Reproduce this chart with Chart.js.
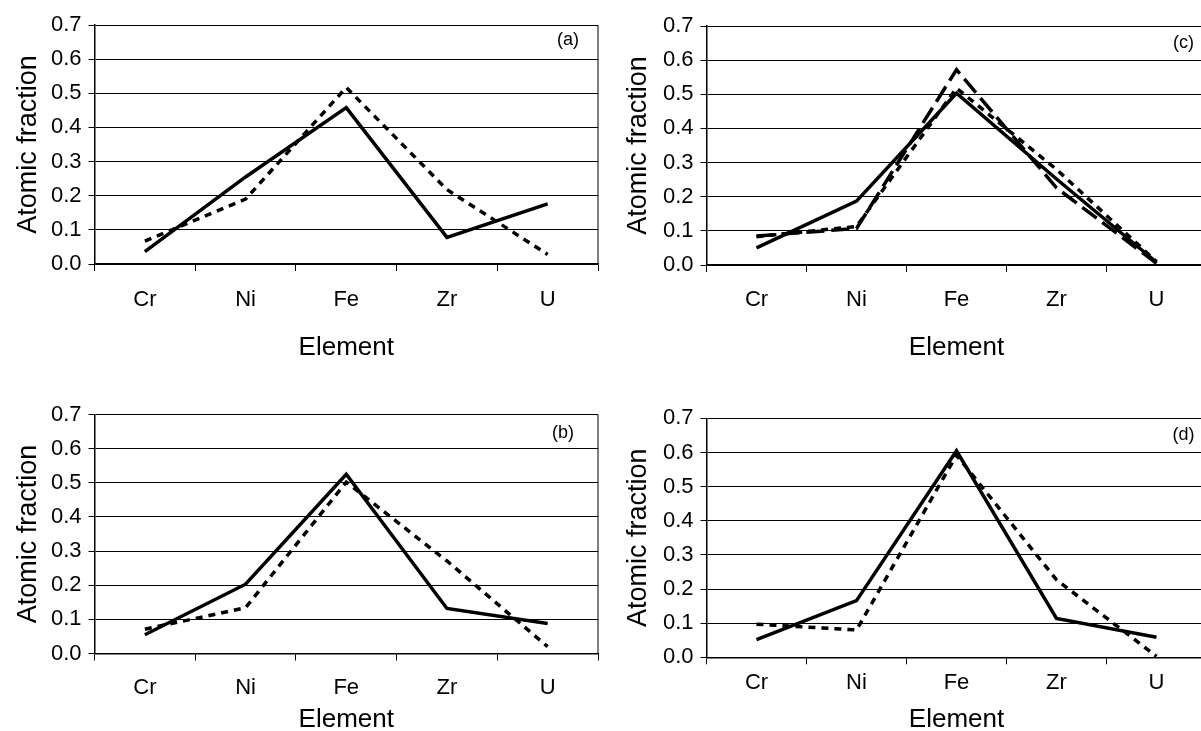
<!DOCTYPE html>
<html>
<head>
<meta charset="utf-8">
<script src="https://cdn.jsdelivr.net/npm/chart.js@4"></script>
<style>
  html, body { margin: 0; padding: 0; background: #fff; overflow: hidden; }
  body { width: 1201px; height: 731px; position: relative; }
  .panel { position: absolute; }
</style>
</head>
<body>
<div class="panel" style="left:0px;top:0px"><canvas id="grafA" width="600" height="370"></canvas></div>
<div class="panel" style="left:0px;top:390px"><canvas id="grafB" width="600" height="345"></canvas></div>
<div class="panel" style="left:610px;top:0px"><canvas id="grafC" width="600" height="370"></canvas></div>
<div class="panel" style="left:610px;top:390px"><canvas id="grafD" width="600" height="345"></canvas></div>
<script>
// datos
const elementos = ["Cr", "Ni", "Fe", "Zr", "U"];
const ticksY = [0, 0.1, 0.2, 0.3, 0.4, 0.5, 0.6, 0.7];
const etiquetas = ["(a)", "(b)", "(c)", "(d)"];

const solidoA = [0.036, 0.255, 0.458, 0.078, 0.176];
const puntosA = [0.067, 0.19, 0.517, 0.218, 0.028];

const solidoB = [0.055, 0.203, 0.525, 0.132, 0.088];
const puntosB = [0.071, 0.134, 0.502, 0.271, 0.02];

const solidoC = [0.05, 0.187, 0.503, 0.252, 0.008];
const puntosC = [0.083, 0.113, 0.518, 0.28, 0.01];
const rayasC = [0.085, 0.107, 0.572, 0.226, 0.005];

const solidoD = [0.052, 0.166, 0.605, 0.114, 0.059];
const puntosD = [0.097, 0.08, 0.592, 0.227, 0.003];

const fuente = "'Liberation Sans', Arial, Helvetica, sans-serif";

// borde derecho y letra del panel
const marcoPlugin = {
  id: "marco",
  afterDraw(chart, args, opts) {
    const { ctx, chartArea } = chart;
    ctx.save();
    ctx.strokeStyle = "#000";
    ctx.lineWidth = 1;
    ctx.beginPath();
    ctx.moveTo(chartArea.right, chartArea.top);
    ctx.lineTo(chartArea.right, chartArea.bottom);
    ctx.stroke();
    ctx.fillStyle = "#000";
    ctx.font = "18px " + fuente;
    ctx.textAlign = "center";
    ctx.textBaseline = "middle";
    ctx.fillText(opts.texto, chartArea.right + opts.dx, chartArea.top + opts.dy);
    ctx.restore();
  },
};

function serie(valores, tipo) {
  let dash = [];
  if (tipo === "puntos") dash = [7, 6];
  if (tipo === "rayas") dash = [18, 7];
  return {
    data: valores,
    borderColor: "#000",
    borderWidth: 3.5,
    borderDash: dash,
    pointRadius: 0,
    tension: 0,
    fill: false,
  };
}

function crearGrafico(id, series, cfg) {
  const ctx = document.getElementById(id).getContext("2d");
  return new Chart(ctx, {
    type: "line",
    data: { labels: elementos, datasets: series },
    plugins: [marcoPlugin],
    options: {
      responsive: false,
      animation: false,
      devicePixelRatio: 1,
      layout: { padding: { top: cfg.arriba, right: cfg.derecha, left: 0, bottom: 0 } },
      plugins: {
        legend: { display: false },
        tooltip: { enabled: false },
        marco: { texto: cfg.texto, dx: cfg.dx, dy: cfg.dy },
      },
      scales: {
        x: {
          offset: true,
          afterFit: (scale) => { scale.height = cfg.altoX; },
          grid: {
            offset: true,
            drawOnChartArea: false,
            drawTicks: true,
            tickLength: 7,
            color: "#000",
            tickColor: "#000",
          },
          border: { color: "#000", width: 1.5 },
          ticks: {
            color: "#000",
            padding: cfg.padX,
            maxRotation: 0,
            font: { family: fuente, size: 22 },
          },
          title: {
            display: true,
            text: "Element",
            color: "#000",
            font: { family: fuente, size: 26 },
            padding: { top: 0, bottom: cfg.padTitulo },
          },
        },
        y: {
          min: 0,
          max: 0.7,
          afterFit: (scale) => { scale.width = cfg.anchoY; },
          afterBuildTicks: (scale) => {
            scale.ticks = ticksY.map((v) => ({ value: v }));
          },
          grid: {
            color: "#000",
            lineWidth: 1,
            tickLength: 6,
            tickColor: "#000",
          },
          border: { color: "#000", width: 1.5 },
          ticks: {
            color: "#000",
            padding: 7,
            font: { family: fuente, size: 22 },
            callback: (v) => Number(v).toFixed(1),
          },
          title: {
            display: true,
            text: "Atomic fraction",
            color: "#000",
            font: { family: fuente, size: 27 },
            padding: { top: 12.3, bottom: 0 },
          },
        },
      },
    },
  });
}

crearGrafico("grafA", [serie(solidoA, "solido"), serie(puntosA, "puntos")], {
  arriba: 25, derecha: 2, anchoY: 94.5, altoX: 106, padX: 15.8, padTitulo: 6.4,
  texto: etiquetas[0], dx: -30, dy: 15,
});
crearGrafico("grafB", [serie(solidoB, "solido"), serie(puntosB, "puntos")], {
  arriba: 24.5, derecha: 2, anchoY: 94.5, altoX: 81.5, padX: 14.3, padTitulo: 0,
  texto: etiquetas[1], dx: -35, dy: 18.5,
});
crearGrafico("grafC", [serie(solidoC, "solido"), serie(puntosC, "puntos"), serie(rayasC, "rayas")], {
  arriba: 26, derecha: 3.5, anchoY: 96.5, altoX: 105, padX: 14.8, padTitulo: 6.4,
  texto: etiquetas[2], dx: -23, dy: 17,
});
crearGrafico("grafD", [serie(solidoD, "solido"), serie(puntosD, "puntos")], {
  arriba: 28.3, derecha: 3.5, anchoY: 96.5, altoX: 77.7, padX: 5.5, padTitulo: 0,
  texto: etiquetas[3], dx: -23, dy: 17,
});
</script>
</body>
</html>
